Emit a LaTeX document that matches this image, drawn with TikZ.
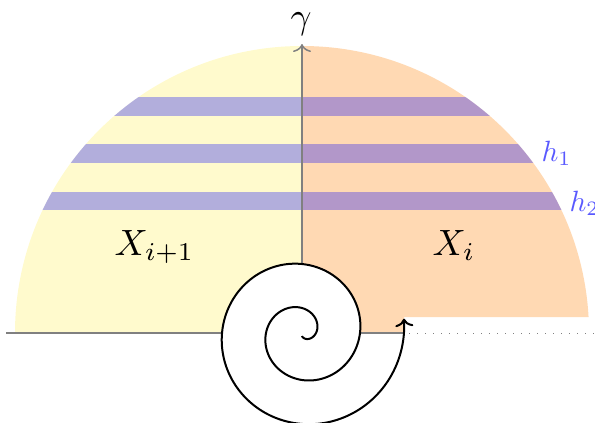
\documentclass[tikz,border=0pt]{standalone}
\usetikzlibrary{arrows.meta}
\definecolor{lemon}{RGB}{255,250,205}
\definecolor{peach}{RGB}{255,217,179}
\begin{document}
\begin{tikzpicture}[x=1pt,y=-1pt,
  axis/.style={draw=gray, line width=1.5pt},
  tipstyle/.style={-{Computer Modern Rightarrow[length=8pt,width=18pt]}},
  band/.style={fill=blue, fill opacity=0.3},
  biglabel/.style={inner sep=0pt, scale=3.66},
  hlabel/.style={inner sep=0pt, scale=2.93, text=blue!65},
  spiralline/.style={draw=black, line width=2pt}]
\useasboundingbox (0,0) rectangle (595,423);
% regions
\begin{scope}
  \clip (302,333) circle[radius=287pt];
  \fill[lemon] (0,0) rectangle (302,333);
  \fill[peach] (302,0) -- (600,0) -- (600,317) -- (404,317) -- (404,333) -- (302,333) -- cycle;
  \fill[band] (0,97) rectangle (600,116);
  \fill[band] (0,144) rectangle (600,163);
  \fill[band] (0,192) rectangle (600,210);
\end{scope}
% white interior of spiral
\fill[white] plot[domain=360:720, samples=160, smooth]
  ({302+(14+0.122173*\x)*cos(\x)}, {333-(14+0.122173*\x)*sin(\x)}) -- cycle;
% axes
\coordinate (L) at (6,333);
\coordinate (SL) at (223,333);
\coordinate (SR) at (360,333);
\coordinate (E) at (404,333);
\coordinate (R) at (595,333);
\coordinate (ST) at (302,264);
\coordinate (T) at (302,44);
\draw[axis] (L) -- (SL);
\draw[axis] (SR) -- (E);
\draw[gray, line width=1pt, dash pattern=on 1pt off 7pt] (E) ++(5,0) -- (R);
\draw[axis, tipstyle] (ST) -- (T);
% spiral
\draw[spiralline, tipstyle] plot[domain=-90:728, samples=400, smooth]
  ({302+(14+0.122173*\x)*cos(\x)}, {333-(14+0.122173*\x)*sin(\x)});
% labels
\node[biglabel, anchor=base] (g) at (301,28) {$\gamma$};
\node[biglabel, anchor=base west] (xi1) at (114,255.5) {$X_{i+1}$};
\node[biglabel, anchor=base west] (xi) at (432,255.5) {$X_i$};
\node[hlabel, anchor=base west] (h1) at (541,161) {$h_1$};
\node[hlabel, anchor=base west] (h2) at (569,211) {$h_2$};
\end{tikzpicture}
\end{document}
